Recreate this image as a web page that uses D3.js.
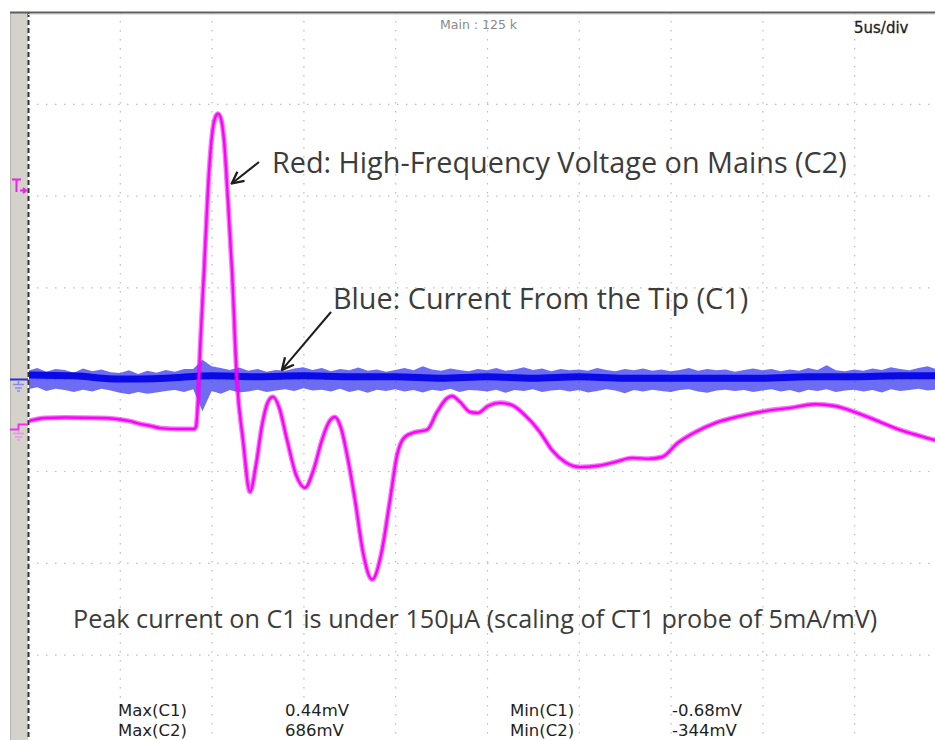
<!DOCTYPE html>
<html>
<head>
<meta charset="utf-8">
<script src="https://cdn.jsdelivr.net/npm/d3@7"></script>
<style>
body { margin: 0; background: #fff; }
svg { display: block; }
.grid line { stroke: #bdbdbd; stroke-width: 1.2; stroke-dasharray: 1.5 7.5; }
.grid path { display: none; }
</style>
</head>
<body>
<svg id="chart" width="935" height="740"></svg>
<script>
// time base: 10 div x 5 us
var timeDomain = [0, 50];

// C2 (magenta), time in us, voltage in mV (200 mV/div)
var c2Time = [0, 0.93, 2.0, 3.92, 5.56, 6.1, 6.65, 7.19, 8.2, 9.04,
  9.15, 9.26, 9.37, 9.59, 9.80, 10.02, 10.19, 10.35, 10.51, 10.68,
  10.89, 11.11, 11.38, 11.71, 12.09, 12.42, 12.75, 13.07, 13.34, 13.67,
  14.11, 14.60, 15.09, 15.52, 16.01, 16.39, 16.72, 17.05, 17.43, 17.81,
  18.25, 18.74, 19.23, 19.72, 20.10, 20.53, 21.08, 21.73, 22.28, 22.82,
  23.09, 23.53, 24.07, 24.51, 25.05, 25.71, 26.36, 27.07, 27.89, 28.54,
  29.25, 30.07, 31.05, 31.97, 32.90, 33.77, 34.53, 35.40, 36.33, 37.42,
  38.78, 40.14, 41.50, 42.87, 43.95, 45.04, 46.13, 47.49, 48.58, 49.40, 50.0];
var c2Volt = [17, 24, 25, 24, 17, 11, 7, 2, 0, 0,
  5, 63, 172, 346, 520, 639, 678, 687, 676, 628,
  498, 346, 106, -24, -137, -78, 9, 59, 70, 48,
  -24, -100, -128, -93, -24, 15, 26, 2, -67, -154,
  -269, -328, -274, -154, -57, -17, -7, -2, 37, 67,
  72, 59, 37, 35, 50, 57, 52, 30, -7, -46,
  -72, -83, -80, -72, -63, -65, -61, -30, -7, 13,
  28, 39, 46, 54, 50, 37, 20, -2, -15, -24, -28];

// C1 (blue), mV (2 mV/div): slow centre every 2.5 us, noise envelope every 0.5 us
var c1MidTime = [0, 2.5, 5, 7.5, 10, 12.5, 15, 17.5, 20, 22.5, 25, 27.5, 30, 32.5, 35, 37.5, 40, 42.5, 45, 47.5, 50];
var c1Mid = [0.11, 0.09, 0.02, 0.04, 0.09, 0.07, 0.09, 0.07, 0.07, 0.04, 0.07, 0.04, 0.07, 0.04, 0.04, 0.04, 0.04, 0.07, 0.07, 0.09, 0.09];
var c1Hi = [0.20, 0.26, 0.18, 0.24, 0.22, 0.16, 0.25, 0.19, 0.23, 0.17,
  0.15, 0.21, 0.13, 0.20, 0.16, 0.22, 0.18, 0.24, 0.24, 0.44,
  0.30, 0.26, 0.22, 0.27, 0.20, 0.24, 0.18, 0.22, 0.20, 0.25,
  0.28, 0.22, 0.26, 0.19, 0.24, 0.21, 0.27, 0.20, 0.23, 0.18,
  0.22, 0.26, 0.21, 0.30, 0.23, 0.20, 0.25, 0.22, 0.19, 0.24,
  0.21, 0.26, 0.20, 0.23, 0.28, 0.22, 0.25, 0.19, 0.24, 0.21,
  0.23, 0.20, 0.26, 0.22, 0.19, 0.24, 0.21, 0.25, 0.20, 0.23,
  0.19, 0.22, 0.26, 0.20, 0.24, 0.21, 0.23, 0.18, 0.22, 0.25,
  0.21, 0.24, 0.19, 0.23, 0.20, 0.26, 0.22, 0.32, 0.21, 0.19,
  0.23, 0.20, 0.25, 0.22, 0.28, 0.24, 0.21, 0.26, 0.30, 0.23, 0.25];
var c1Lo = [-0.20, -0.16, -0.24, -0.19, -0.22, -0.26, -0.21, -0.25, -0.19, -0.23,
  -0.28, -0.31, -0.26, -0.30, -0.27, -0.24, -0.22, -0.26, -0.20, -0.68,
  -0.24, -0.30, -0.22, -0.27, -0.25, -0.21, -0.26, -0.23, -0.20, -0.24,
  -0.18, -0.23, -0.21, -0.25, -0.19, -0.26, -0.22, -0.28, -0.21, -0.24,
  -0.20, -0.25, -0.22, -0.27, -0.21, -0.24, -0.19, -0.26, -0.22, -0.23,
  -0.25, -0.21, -0.28, -0.22, -0.24, -0.20, -0.26, -0.23, -0.21, -0.25,
  -0.22, -0.27, -0.24, -0.20, -0.23, -0.29, -0.22, -0.25, -0.21, -0.24,
  -0.26, -0.22, -0.20, -0.25, -0.28, -0.23, -0.21, -0.24, -0.22, -0.26,
  -0.23, -0.20, -0.25, -0.22, -0.27, -0.21, -0.24, -0.20, -0.26, -0.23,
  -0.21, -0.25, -0.22, -0.27, -0.20, -0.24, -0.22, -0.19, -0.23, -0.21, -0.20];

// measurement readouts
var maxLabels = ["Max(C1)", "Max(C2)"];
var maxValues = ["0.44mV", "686mV"];
var minLabels = ["Min(C1)", "Min(C2)"];
var minValues = ["-0.68mV", "-344mV"];

var svg = d3.select("#chart");
var plotLeft = 28, plotTop = 12, div = 91.8;
var plotW = div * 10, plotH = div * 8;

var x = d3.scaleLinear().domain(timeDomain).range([plotLeft, plotLeft + plotW]);
var c2Zero = 429, c1Zero = 380;
var y2 = d3.scaleLinear().domain([0, 200]).range([c2Zero, c2Zero - div]);
var y1 = d3.scaleLinear().domain([0, 2]).range([c1Zero, c1Zero - div]);
var gy = d3.scaleLinear().domain([0, 8]).range([plotTop, plotTop + plotH]);

// grey strip on the left
svg.append("rect").attr("x", 10).attr("y", plotTop).attr("width", 18).attr("height", 740 - plotTop)
  .attr("fill", "#d5d1cb");
svg.append("line").attr("x1", 10.5).attr("x2", 10.5).attr("y1", plotTop).attr("y2", 740)
  .attr("stroke", "#b8b4ae");

// graticule
svg.append("g").attr("class", "grid").attr("transform", "translate(0," + plotTop + ")")
  .call(d3.axisTop(x).ticks(10).tickSize(-plotH).tickFormat(""))
  .selectAll(".tick").filter(function(d) { return d === 0; }).remove();
svg.append("g").attr("class", "grid").attr("transform", "translate(" + plotLeft + ",0)")
  .call(d3.axisLeft(gy).ticks(8).tickSize(-plotW).tickFormat(""))
  .selectAll(".tick").filter(function(d) { return d === 0; }).remove();

// frame
svg.append("line").attr("x1", plotLeft + 0.5).attr("x2", plotLeft + 0.5).attr("y1", plotTop).attr("y2", 740)
  .attr("stroke", "#333").attr("stroke-width", 2).attr("stroke-dasharray", "5 3");
svg.append("line").attr("x1", 10).attr("x2", 935).attr("y1", plotTop + 0.5).attr("y2", plotTop + 0.5)
  .attr("stroke", "#5e5e5e").attr("stroke-width", 2);
svg.append("line").attr("x1", plotLeft).attr("x2", 935).attr("y1", plotTop + 2.5).attr("y2", plotTop + 2.5)
  .attr("stroke", "#e4e4e4").attr("stroke-width", 1);

svg.append("clipPath").attr("id", "plot").append("rect")
  .attr("x", plotLeft + 1).attr("y", plotTop + 2).attr("width", plotW).attr("height", plotH);
var traces = svg.append("g").attr("clip-path", "url(#plot)");

// C1 blue noise band
var c1Time = d3.range(0, 50.001, 0.5);
var c1Samples = c1Time.map(function(t, i) { return { t: t, hi: c1Hi[i], lo: c1Lo[i] }; });
traces.append("path").datum(c1Samples)
  .attr("d", d3.area().x(function(d) { return x(d.t); })
    .y0(function(d) { return y1(d.lo); }).y1(function(d) { return y1(d.hi); }))
  .attr("fill", "#3434f0").attr("opacity", 0.72);
traces.append("path").datum(c1MidTime)
  .attr("d", d3.line().curve(d3.curveMonotoneX)
    .x(function(d) { return x(d); }).y(function(d, i) { return y1(c1Mid[i]); }))
  .attr("fill", "none").attr("stroke", "#0a0ae6").attr("stroke-width", 7);

// C2 magenta
var c2Line = d3.line().curve(d3.curveMonotoneX)
  .x(function(d) { return x(d); }).y(function(d, i) { return y2(c2Volt[i]); });
traces.append("path").datum(c2Time).attr("d", c2Line)
  .attr("fill", "none").attr("stroke", "#e000e0").attr("stroke-width", 5).attr("opacity", 0.5);
traces.append("path").datum(c2Time).attr("d", c2Line)
  .attr("fill", "none").attr("stroke", "#ff00ff").attr("stroke-width", 2.4);

// channel markers on the strip
var mk = svg.append("g");
mk.append("path").attr("d", "M12,179.5 H21 M16.5,179 V192 M20,190.5 H26 M23,188 L26,190.5 L23,193")
  .attr("stroke", "#ee22ee").attr("stroke-width", 2).attr("fill", "none");
mk.append("line").attr("x1", 10).attr("x2", 28).attr("y1", c1Zero - 0.5).attr("y2", c1Zero - 0.5)
  .attr("stroke", "#2b2bea").attr("stroke-width", 2);
mk.append("path").attr("d", "M18.5,380 V384 M13,384.5 H24 M15,388 H22 M17,391 H20")
  .attr("stroke", "#8a8af0").attr("stroke-width", 1.6).attr("fill", "none");
mk.append("path").attr("d", "M28,424.5 H18.5 V429.5 H10")
  .attr("stroke", "#ee33ee").attr("stroke-width", 2).attr("fill", "none");
mk.append("path").attr("d", "M18.5,430 V433 M13,433.5 H24 M15,437 H22 M17,440 H20")
  .attr("stroke", "#f090f0").attr("stroke-width", 1.6).attr("fill", "none");

// header texts
svg.append("text").attr("x", 440).attr("y", 29).text("Main : 125 k")
  .attr("font-family", "DejaVu Sans").attr("font-size", 12.5).attr("fill", "#8a8a8a");
svg.append("text").attr("x", 854).attr("y", 33).text("5us/div")
  .attr("font-family", "DejaVu Sans").attr("font-size", 15).attr("fill", "#1e1e1e")
  .attr("stroke", "#1e1e1e").attr("stroke-width", 0.3);

// annotations
var note = svg.append("g").attr("font-family", "Open Sans").attr("fill", "#3c3c3c");
note.append("text").attr("x", 272).attr("y", 173).attr("font-size", 28.8)
  .text("Red: High-Frequency Voltage on Mains (C2)");
note.append("text").attr("x", 333).attr("y", 309).attr("font-size", 28.8)
  .text("Blue: Current From the Tip (C1)");
note.append("text").attr("x", 73).attr("y", 628).attr("font-size", 25.2)
  .text("Peak current on C1 is under 150\u00b5A (scaling of CT1 probe of 5mA/mV)");

svg.append("defs").append("marker").attr("id", "arrow")
  .attr("viewBox", "0 0 12 12").attr("refX", 11).attr("refY", 6)
  .attr("markerWidth", 14).attr("markerHeight", 14).attr("markerUnits", "userSpaceOnUse")
  .attr("orient", "auto")
  .append("path").attr("d", "M1,1 L11,6 L1,11").attr("fill", "none")
  .attr("stroke", "#1e1e1e").attr("stroke-width", 2);
svg.append("line").attr("x1", 259).attr("y1", 162).attr("x2", x(11.1)).attr("y2", y2(535))
  .attr("stroke", "#1e1e1e").attr("stroke-width", 2).attr("marker-end", "url(#arrow)");
svg.append("line").attr("x1", 331).attr("y1", 312).attr("x2", x(13.83)).attr("y2", y1(0.22))
  .attr("stroke", "#1e1e1e").attr("stroke-width", 2).attr("marker-end", "url(#arrow)");

// readouts
var ro = svg.append("g").attr("font-family", "DejaVu Sans").attr("font-size", 16.5).attr("fill", "#1e1e1e");
[maxLabels, maxValues, minLabels, minValues].forEach(function(col, c) {
  var cx = [118, 285, 510, 672][c];
  ro.selectAll(null).data(col).enter().append("text")
    .attr("x", cx).attr("y", function(d, i) { return 716 + i * 20; })
    .text(function(d) { return d; });
});
</script>
</body>
</html>
